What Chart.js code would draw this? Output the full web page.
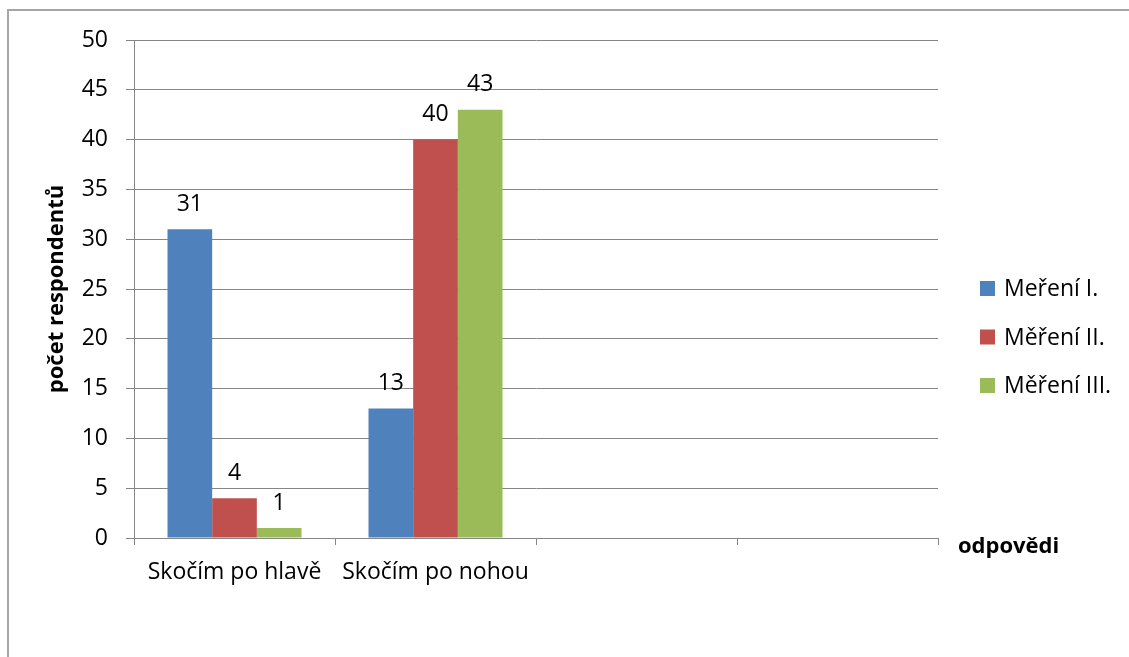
<!DOCTYPE html>
<html lang="cs">
<head>
<meta charset="utf-8">
<title>Skok do vody</title>
<script src="https://cdn.jsdelivr.net/npm/chart.js@4"></script>
<style>
    html, body { margin: 0; padding: 0; background: #fff; }
    #graf-box { position: relative; width: 1129px; height: 657px; }
</style>
</head>
<body>
<div id="graf-box"><canvas id="graf"></canvas></div>
<script>
// Data grafu
const kategorie = ['Skočím po hlavě', 'Skočím po nohou', '', ''];
const mereni1 = [31, 13, null, null];
const mereni2 = [4, 40, null, null];
const mereni3 = [1, 43, null, null];
const nazvySerii = ['Meření I.', 'Měření II.', 'Měření III.'];
const barvySerii = ['#4F81BD', '#C0504D', '#9BBB59'];
const osaYMin = 0;
const osaYMax = 50;
const osaYKrok = 5;
const titulekY = 'počet respondentů';
const titulekX = 'odpovědi';

const PISMO = '"Open Sans", "Noto Sans", sans-serif';
const SEDA = '#868686';

document.addEventListener('DOMContentLoaded', function() {
    // Rámeček kolem celého grafu
    const ramecek = {
        id: 'ramecek',
        beforeDraw(chart) {
            const ctx = chart.ctx;
            ctx.save();
            ctx.strokeStyle = '#a6a6a6';
            ctx.lineWidth = 2;
            ctx.beginPath();
            ctx.moveTo(8, chart.height);
            ctx.lineTo(8, 10);
            ctx.lineTo(chart.width, 10);
            ctx.stroke();
            ctx.restore();
        }
    };

    // Hodnoty nad sloupci
    const popisky = {
        id: 'popisky',
        afterDatasetsDraw(chart) {
            const ctx = chart.ctx;
            ctx.save();
            ctx.font = '23px ' + PISMO;
            ctx.fillStyle = '#000';
            ctx.textAlign = 'center';
            ctx.textBaseline = 'middle';
            chart.data.datasets.forEach((ds, i) => {
                chart.getDatasetMeta(i).data.forEach((el, j) => {
                    const v = ds.data[j];
                    if (v === null) return;
                    ctx.fillText(String(v), el.x, el.y - 25);
                });
            });
            ctx.restore();
        }
    };

    // Legenda vpravo a názvy os
    const legendaAOsy = {
        id: 'legendaAOsy',
        afterDraw(chart) {
            const ctx = chart.ctx;
            const area = chart.chartArea;
            ctx.save();

            ctx.font = '23px ' + PISMO;
            ctx.textAlign = 'left';
            ctx.textBaseline = 'middle';
            const stredY = (area.top + area.bottom) / 2 + 48;
            chart.data.datasets.forEach((ds, i) => {
                const y = stredY + (i - 1) * 48.5;
                ctx.fillStyle = ds.backgroundColor;
                ctx.fillRect(area.right + 42, y - 7.5, 15, 15);
                ctx.fillStyle = '#000';
                ctx.fillText(ds.label, area.right + 66, y + 1);
            });

            ctx.font = 'bold 22px ' + PISMO;
            ctx.fillText(titulekX, area.right + 20, area.bottom + 9);

            ctx.translate(57, (area.top + area.bottom) / 2);
            ctx.rotate(-Math.PI / 2);
            ctx.textAlign = 'center';
            ctx.fillText(titulekY, 0, 0);
            ctx.restore();
        }
    };

    const datasety = [mereni1, mereni2, mereni3].map((hodnoty, i) => ({
        label: nazvySerii[i],
        data: hodnoty,
        backgroundColor: barvySerii[i],
        borderWidth: 0,
        categoryPercentage: 3 / 4.5,
        barPercentage: 1
    }));

    new Chart(document.getElementById('graf'), {
        type: 'bar',
        data: { labels: kategorie, datasets: datasety },
        options: {
            responsive: true,
            maintainAspectRatio: false,
            animation: false,
            layout: { padding: { left: 0, top: 40, right: 191, bottom: 0 } },
            plugins: {
                legend: { display: false },
                tooltip: { enabled: false }
            },
            scales: {
                x: {
                    offset: true,
                    grid: {
                        offset: true,
                        drawOnChartArea: false,
                        color: SEDA,
                        tickLength: 7
                    },
                    border: { display: true, color: SEDA, width: 1 },
                    ticks: {
                        color: '#000',
                        padding: 14,
                        maxRotation: 0,
                        autoSkip: false,
                        font: { family: PISMO, size: 23 }
                    },
                    afterFit(scale) { scale.height = 119; }
                },
                y: {
                    min: osaYMin,
                    max: osaYMax,
                    grid: { color: SEDA, tickLength: 8 },
                    border: { display: true, color: SEDA, width: 1 },
                    ticks: {
                        stepSize: osaYKrok,
                        color: '#000',
                        padding: 18,
                        font: { family: PISMO, size: 23 }
                    },
                    afterFit(scale) { scale.width = 134; }
                }
            }
        },
        plugins: [ramecek, popisky, legendaAOsy]
    });
});
</script>
</body>
</html>
